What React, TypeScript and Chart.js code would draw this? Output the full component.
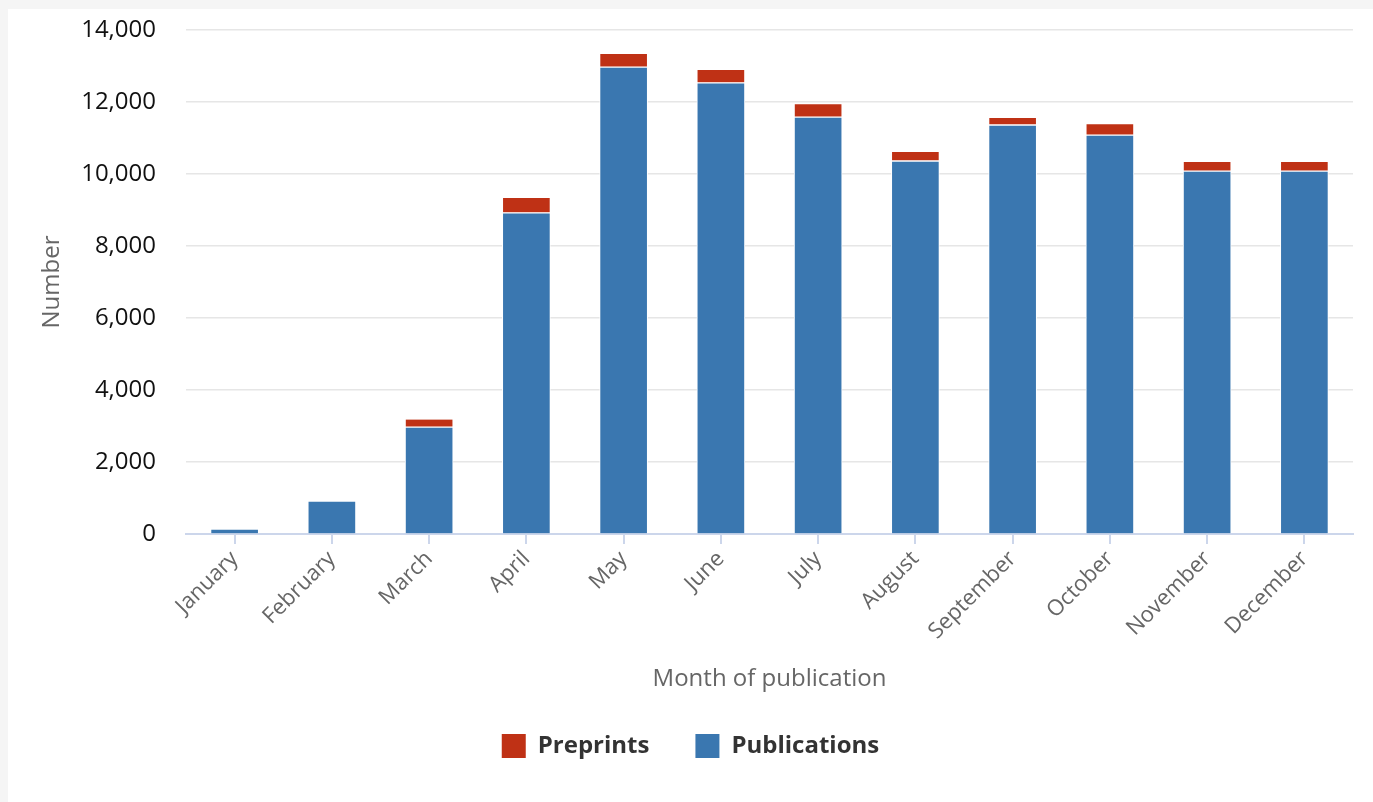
import React, { useEffect, useRef } from "react";
import { Chart, registerables } from "chart.js";

Chart.register(...registerables);

const months = [
  "January", "February", "March", "April", "May", "June",
  "July", "August", "September", "October", "November", "December",
];
const publications = [140, 915, 2970, 8920, 12970, 12530, 11580, 10360, 11360, 11080, 10080, 10080];
const preprints = [0, 0, 210, 415, 360, 360, 360, 250, 195, 305, 250, 250];
const yTicks = [0, 2000, 4000, 6000, 8000, 10000, 12000, 14000];

const BLUE = "#3A77B0";
const RED = "#BF3115";
const FONT = "'Open Sans', sans-serif";

export default function App() {
  const ref = useRef<HTMLCanvasElement | null>(null);

  useEffect(() => {
    document.documentElement.style.overflow = "hidden";
    document.body.style.background = "#f5f5f5";
    document.body.style.overflow = "hidden";
    Chart.defaults.font.family = FONT;
    const canvas = ref.current!;
    const chart = new Chart(canvas, {
      type: "bar",
      data: {
        labels: months,
        datasets: [
          {
            label: "Publications",
            data: publications,
            backgroundColor: BLUE,
            borderColor: "#ffffff",
            borderWidth: { top: 1, left: 1, right: 1, bottom: 0 },
            borderSkipped: false,
            barThickness: 48,
            stack: "s",
          },
          {
            label: "Preprints",
            data: preprints,
            backgroundColor: RED,
            borderColor: "#ffffff",
            borderWidth: { top: 0, left: 1, right: 1, bottom: 1 },
            borderSkipped: false,
            barThickness: 48,
            stack: "s",
          },
        ],
      },
      options: {
        responsive: false,
        animation: false,
        devicePixelRatio: 1,
        layout: { padding: { top: 21, right: 0, bottom: 34, left: 0 } },
        plugins: {
          tooltip: { enabled: false },
          legend: {
            position: "bottom",
            labels: {
              font: { family: FONT, size: 24, weight: "bold" },
              color: "#333333",
              boxWidth: 24,
              boxHeight: 24,
              padding: 46,
              sort: (a: any, b: any) => b.datasetIndex - a.datasetIndex,
              generateLabels: (c: any) =>
                (Chart.defaults.plugins.legend.labels as any)
                  .generateLabels(c)
                  .map((l: any) => ({ ...l, lineWidth: 0 })),
            },
          },
        },
        scales: {
          x: {
            stacked: true,
            grid: {
              display: true,
              drawOnChartArea: false,
              drawTicks: true,
              tickLength: 10,
              color: "#ccd6eb",
              lineWidth: 2,
              offset: false,
            },
            border: { display: true, color: "#ccd6eb", width: 2 },
            ticks: {
              minRotation: 45,
              maxRotation: 45,
              autoSkip: false,
              color: "#666666",
              font: { family: FONT, size: 22 },
              padding: 2,
            },
            title: {
              display: true,
              text: "Month of publication",
              color: "#666666",
              font: { family: FONT, size: 24 },
              padding: { top: 0, bottom: -6 },
            },
            afterFit: (s: any) => {
              s.height = 154;
            },
          },
          y: {
            stacked: true,
            min: 0,
            max: 14000,
            afterBuildTicks: (s: any) => {
              s.ticks = yTicks.map((v) => ({ value: v }));
            },
            grid: { color: "#e6e6e6", lineWidth: 1.5, drawTicks: false },
            border: { display: false },
            ticks: {
              color: "#111111",
              font: { family: FONT, size: 24 },
              padding: 30,
              callback: (v: any) => Number(v).toLocaleString("en-US"),
            },
            title: {
              display: true,
              text: "Number",
              color: "#666666",
              font: { family: FONT, size: 24 },
              padding: { top: 30, bottom: 0 },
            },
            afterFit: (s: any) => {
              s.width = 178;
              s.paddingTop = 14;
              s.paddingBottom = 14;
            },
          },
          yR: {
            type: "linear",
            position: "right",
            display: true,
            grid: { display: false, drawTicks: false },
            border: { display: false },
            ticks: { display: false },
            afterFit: (s: any) => {
              s.width = 20;
              s.paddingTop = 0;
              s.paddingBottom = 0;
            },
          },
        },
      },
    } as any);
    return () => chart.destroy();
  }, []);

  return (
    <div
      style={{
        position: "absolute",
        left: 8,
        top: 9,
        width: 1365,
        height: 793,
        background: "#ffffff",
      }}
    >
      <canvas ref={ref} width={1365} height={793} style={{ display: "block" }} />
    </div>
  );
}
